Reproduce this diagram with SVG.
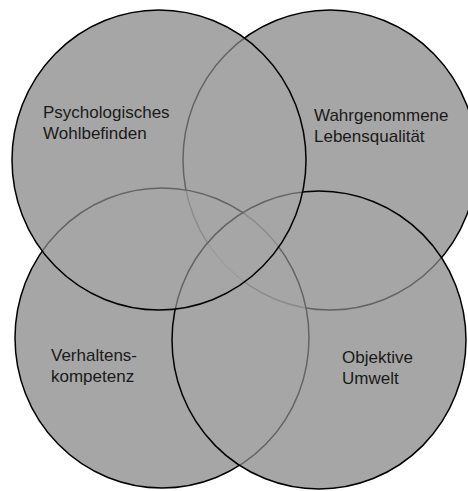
<svg xmlns="http://www.w3.org/2000/svg" width="468" height="491" viewBox="0 0 468 491">
<style>
.base{fill:#a6a6a6;stroke:none}
.c{fill:#a6a6a6;fill-opacity:0.6;stroke:#000;stroke-width:1.5}
.t{font-family:"Liberation Sans",Arial,sans-serif;font-size:17px;fill:#1a1a1a}
</style>
<rect width="468" height="491" fill="#fff"/>
<g id="underlay">
<ellipse class="base" cx="159" cy="160" rx="147" ry="150"/>
<ellipse class="base" cx="330" cy="160" rx="147" ry="150"/>
<ellipse class="base" cx="162" cy="338" rx="147" ry="150"/>
<ellipse class="base" cx="319" cy="340" rx="147" ry="149"/>
</g>
<g id="wahrgenommene-lebensqualitaet">
<ellipse class="c" cx="330" cy="160" rx="147" ry="150"/>
<text class="t" x="314" y="121">Wahrgenommene</text>
<text class="t" x="314" y="142">Lebensqualität</text>
</g>
<g id="verhaltenskompetenz">
<ellipse class="c" cx="162" cy="338" rx="147" ry="150"/>
<text class="t" x="51" y="361">Verhaltens-</text>
<text class="t" x="51" y="382">kompetenz</text>
</g>
<g id="objektive-umwelt">
<ellipse class="c" cx="319" cy="340" rx="147" ry="149"/>
<text class="t" x="342" y="363">Objektive</text>
<text class="t" x="342" y="384">Umwelt</text>
</g>
<g id="psychologisches-wohlbefinden">
<ellipse class="c" cx="159" cy="160" rx="147" ry="150"/>
<text class="t" x="43" y="118">Psychologisches</text>
<text class="t" x="43" y="139">Wohlbefinden</text>
</g>
<g id="connectors"/>
</svg>
